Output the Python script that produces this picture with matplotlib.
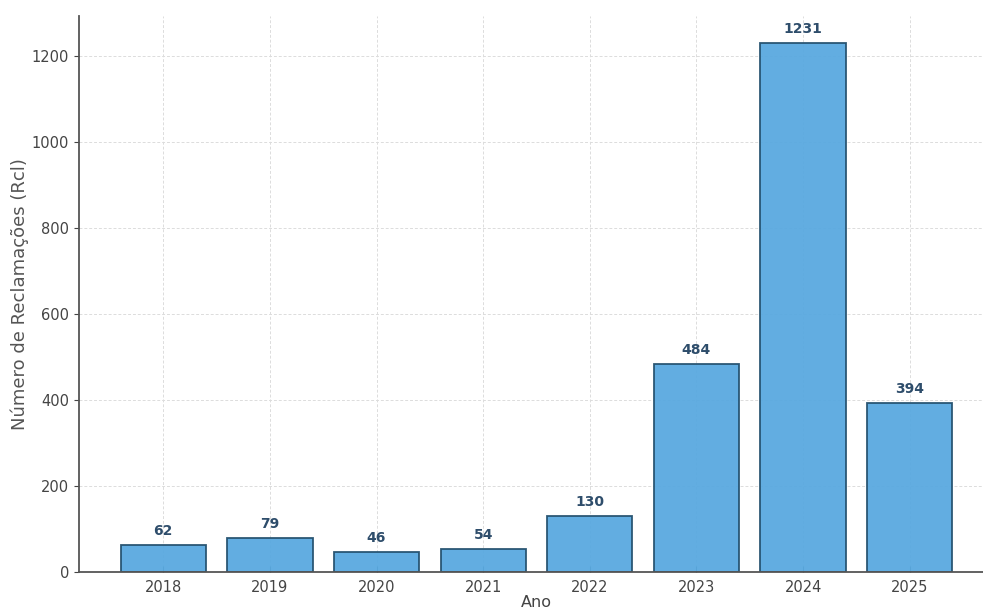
import matplotlib.pyplot as plt

anos = ["2018", "2019", "2020", "2021", "2022", "2023", "2024", "2025"]
reclamacoes = [62, 79, 46, 54, 130, 484, 1231, 394]

fig = plt.figure(figsize=(9.83, 6.15), dpi=100)
# axes run past the right edge of the picture (original was cropped)
ax = fig.add_axes([79 / 983, 43 / 615, 915 / 983, 556 / 615])

bars = ax.bar(anos, reclamacoes, width=0.8, color="#59A9E0", alpha=0.95,
              edgecolor="#24506E", linewidth=1.3, zorder=2)
ax.grid(True, linestyle=(0, (3, 2)), color="#dcdcdc", linewidth=0.7, zorder=3)

for b, v in zip(bars, reclamacoes):
    ax.annotate(str(v), (b.get_x() + b.get_width() / 2, v),
                xytext=(0, 5), textcoords="offset points",
                ha="center", va="bottom", fontsize=10, fontweight="bold",
                color="#2E4D6B")

ax.set_ylim(0, 1293)
ax.set_yticks([0, 200, 400, 600, 800, 1000, 1200])
ax.set_xlabel("Ano", fontsize=11.5, color="#444444", labelpad=0)
ax.set_ylabel("Número de Reclamações (Rcl)", fontsize=13, color="#555555",
              labelpad=2)
ax.tick_params(labelsize=10.5, colors="#444444")
ax.tick_params(axis="x", direction="in", length=4, pad=6)
for s in ["top", "right"]:
    ax.spines[s].set_visible(False)
for s in ["left", "bottom"]:
    ax.spines[s].set_color("#555555")
    ax.spines[s].set_linewidth(1.3)

fig.savefig("out.png", dpi=100)
